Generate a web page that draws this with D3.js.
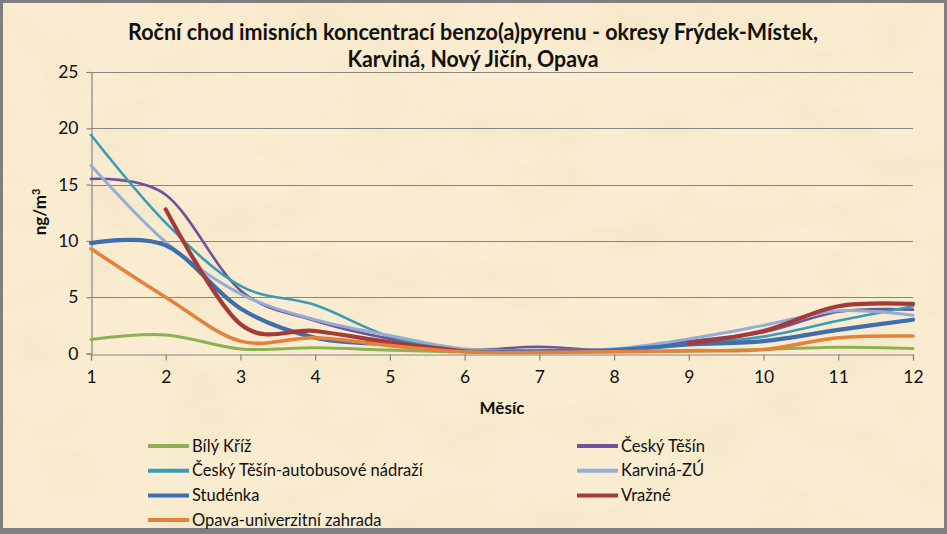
<!DOCTYPE html>
<html>
<head>
<meta charset="utf-8">
<script src="https://cdn.jsdelivr.net/npm/d3@7"></script>
<style>
  html, body { margin: 0; padding: 0; background: #ffffff; }
  svg { display: block; }
</style>
</head>
<body>
<svg id="chart" width="947" height="534"></svg>
<script>
// ---------- data ----------
const months = [1, 2, 3, 4, 5, 6, 7, 8, 9, 10, 11, 12];
const yTicks = [0, 5, 10, 15, 20, 25];

const bilyKriz      = [1.25, 1.65, 0.4, 0.5, 0.3, 0.15, 0.15, 0.15, 0.2, 0.35, 0.55, 0.45];
const ceskyTesin    = [15.5, 14.1, 5.6, 2.9, 1.3, 0.35, 0.6, 0.3, 1.1, 1.9, 3.7, 3.9];
const ceskyTesinAut = [19.4, 11.6, 6.0, 4.3, 1.5, 0.3, 0.2, 0.3, 0.8, 1.5, 2.9, 4.2];
const karvinaZU     = [16.7, 9.9, 5.3, 3.0, 1.6, 0.4, 0.3, 0.4, 1.3, 2.5, 3.8, 3.4];
const studenka      = [9.8, 9.6, 4.0, 1.4, 0.8, 0.2, 0.2, 0.3, 0.8, 1.1, 2.1, 3.0];
const vrazne        = [null, 12.8, 2.6, 2.0, 1.0, 0.2, null, null, 0.9, 2.0, 4.2, 4.4];
const opava         = [9.3, 5.0, 1.1, 1.4, 0.7, 0.15, 0.1, 0.15, 0.25, 0.35, 1.4, 1.55];

const seriesNames = ["Bílý Kříž", "Český Těšín", "Český Těšín-autobusové nádraží",
                     "Karviná-ZÚ", "Studénka", "Vražné", "Opava-univerzitní zahrada"];
const seriesValues = [bilyKriz, ceskyTesin, ceskyTesinAut, karvinaZU, studenka, vrazne, opava];
const seriesColors = ["#8DB152", "#70519A", "#3A9DB5", "#93AED5", "#3F6EAE", "#A33B39", "#E4813A"];
const seriesWidths = [3, 2.6, 2.6, 3, 4.2, 4.2, 3.6];

const titleLines = ["Roční chod imisních koncentrací benzo(a)pyrenu - okresy Frýdek-Místek,",
                    "Karviná, Nový Jičín, Opava"];
const xTitle = "Měsíc";

// ---------- layout ----------
const W = 947, H = 534;
const svg = d3.select("#chart");
const FONT = "Lato, 'Open Sans', 'Noto Sans', sans-serif";

// background with paper texture
const defs = svg.append("defs");
const filt = defs.append("filter").attr("id", "paper").attr("x", 0).attr("y", 0).attr("width", 1).attr("height", 1);
filt.append("feTurbulence").attr("type", "fractalNoise").attr("baseFrequency", "0.012 0.02")
    .attr("numOctaves", 4).attr("seed", 7).attr("result", "noise");
filt.append("feColorMatrix").attr("in", "noise").attr("type", "matrix")
    .attr("values", "0 0 0 0 0.88  0 0 0 0 0.76  0 0 0 0 0.52  0 0 0 -1.2 0.66")
    .attr("result", "tint");
filt.append("feComposite").attr("in", "tint").attr("in2", "SourceGraphic").attr("operator", "in").attr("result", "t2");
filt.append("feMerge").call(m => { m.append("feMergeNode").attr("in", "SourceGraphic"); m.append("feMergeNode").attr("in", "t2"); });

svg.append("rect").attr("x", 0).attr("y", 0).attr("width", W).attr("height", H).attr("fill", "#F9ECD0");
svg.append("rect").attr("x", 0).attr("y", 0).attr("width", W).attr("height", H)
   .attr("fill", "#F9ECD0").attr("filter", "url(#paper)");

// border
svg.append("rect").attr("x", 1.5).attr("y", 1.5).attr("width", W - 3).attr("height", H - 3)
   .attr("fill", "none").attr("stroke", "#7F7F7F").attr("stroke-width", 3);
svg.append("rect").attr("x", 0).attr("y", 528).attr("width", W).attr("height", 6).attr("fill", "#7F7F7F");

// scales
const x = d3.scaleLinear().domain([1, 12]).range([91, 913]);
const y = d3.scaleLinear().domain([0, 25]).range([353.5, 72]);

// gridlines
svg.append("g").selectAll("line").data(yTicks.filter(d => d > 0)).join("line")
   .attr("x1", x(1)).attr("x2", x(12))
   .attr("y1", d => Math.round(y(d)) + 0.5).attr("y2", d => Math.round(y(d)) + 0.5)
   .attr("stroke", "#868686").attr("stroke-width", 1.2);

// y axis
const yAxis = svg.append("g").attr("transform", `translate(${Math.round(x(1)) + 0.5},0)`)
   .call(d3.axisLeft(y).tickValues(yTicks).tickSize(5).tickPadding(8).tickFormat(d3.format("d")));
yAxis.select(".domain").attr("stroke", "#868686").attr("stroke-width", 1.2);
yAxis.selectAll(".tick line").attr("stroke", "#868686").attr("stroke-width", 1.2);
yAxis.selectAll(".tick text").attr("font-family", FONT).attr("font-size", 17.5).attr("fill", "#111");

// x axis
const xAxis = svg.append("g").attr("transform", `translate(0,${Math.round(y(0)) + 0.5})`)
   .call(d3.axisBottom(x).tickValues(months).tickSize(6).tickPadding(10).tickFormat(d3.format("d")));
xAxis.select(".domain").attr("stroke", "#868686").attr("stroke-width", 1.2);
xAxis.selectAll(".tick line").attr("stroke", "#868686").attr("stroke-width", 1.2);
xAxis.selectAll(".tick text").attr("font-family", FONT).attr("font-size", 17.5).attr("fill", "#111");

// lines
const line = d3.line()
   .defined(d => d.v !== null)
   .x(d => x(d.m)).y(d => y(d.v))
   .curve(d3.curveCatmullRom.alpha(0));

seriesValues.forEach((vals, i) => {
  const pts = months.map((m, k) => ({ m, v: vals[k] }));
  svg.append("path").datum(pts)
     .attr("d", line)
     .attr("fill", "none")
     .attr("stroke", seriesColors[i])
     .attr("stroke-width", seriesWidths[i])
     .attr("stroke-linejoin", "round").attr("stroke-linecap", "round");
});

// title
const titleG = svg.append("g").attr("font-family", FONT).attr("font-weight", "bold")
   .attr("font-size", 22).attr("fill", "#111").attr("text-anchor", "middle");
const titleWidths = [690, 251];
titleLines.forEach((t, i) => {
  titleG.append("text").attr("x", 473).attr("y", 40 + i * 27)
     .attr("textLength", titleWidths[i]).attr("lengthAdjust", "spacingAndGlyphs").text(t);
});

// axis titles
svg.append("text").attr("x", 502).attr("y", 414).attr("text-anchor", "middle")
   .attr("font-family", FONT).attr("font-weight", "bold").attr("font-size", 17).attr("fill", "#111")
   .text(xTitle);

const yt = svg.append("text").attr("transform", "translate(46,212) rotate(-90)")
   .attr("text-anchor", "middle").attr("font-family", FONT).attr("font-weight", "bold")
   .attr("font-size", 17).attr("fill", "#111");
yt.append("tspan").text("ng/m");
yt.append("tspan").attr("dy", -6).attr("font-size", 11).text("3");

// legend
const legend = svg.append("g").attr("font-family", FONT).attr("font-size", 16.5).attr("fill", "#111");
seriesNames.forEach((name, i) => {
  const col = i % 2, row = Math.floor(i / 2);
  const lx = col === 0 ? 148 : 577;
  const ly = 446 + row * 24.7;
  legend.append("line").attr("x1", lx).attr("x2", lx + 41).attr("y1", ly).attr("y2", ly)
        .attr("stroke", seriesColors[i]).attr("stroke-width", 4);
  legend.append("text").attr("x", lx + 44).attr("y", ly + 5.5).text(name);
});
</script>
</body>
</html>
